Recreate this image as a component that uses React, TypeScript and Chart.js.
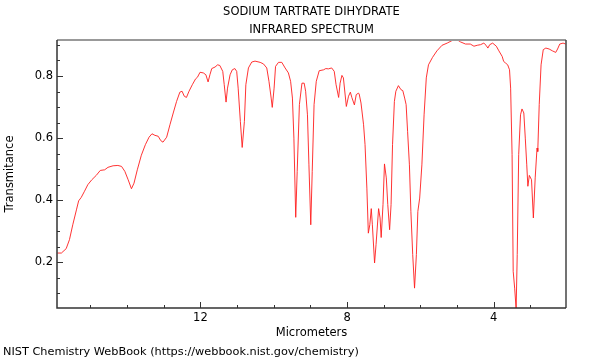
import React, { useEffect, useRef } from "react";
import { Chart, registerables } from "chart.js";

Chart.register(...registerables);

// Wavelength in micrometers (left to right on a reversed axis)
const wavelengths: number[] = [
  15.9, 15.79, 15.66, 15.57, 15.48, 15.38, 15.32, 15.25, 15.16, 15.07, 14.96, 14.84, 14.73, 14.61, 14.52,
  14.38, 14.25, 14.15, 14.06, 13.97, 13.88, 13.81, 13.72, 13.61, 13.5, 13.4, 13.32, 13.24, 13.15, 13.08,
  13.02, 12.92, 12.83, 12.74, 12.65, 12.56, 12.5, 12.44, 12.38, 12.31, 12.22, 12.13, 12.08, 12.01, 11.92,
  11.85, 11.79, 11.74, 11.69, 11.6, 11.53, 11.47, 11.39, 11.35, 11.3, 11.26, 11.19, 11.13, 11.06, 11.01,
  10.97, 10.91, 10.86, 10.8, 10.76, 10.69, 10.6, 10.51, 10.37, 10.28, 10.19, 10.13, 10.07, 10.04, 9.99,
  9.95, 9.87, 9.78, 9.69, 9.6, 9.54, 9.49, 9.45, 9.4, 9.36, 9.3, 9.23, 9.17, 9.13, 9.08, 9.04, 8.99, 8.95,
  8.9, 8.84, 8.76, 8.64, 8.58, 8.51, 8.42, 8.35, 8.3, 8.23, 8.19, 8.14, 8.1, 8.02, 7.96, 7.91, 7.87, 7.8,
  7.75, 7.69, 7.67, 7.62, 7.55, 7.51, 7.46, 7.42, 7.38, 7.34, 7.31, 7.25, 7.21, 7.14, 7.1, 7.07, 7.02,
  6.98, 6.93, 6.89, 6.84, 6.8, 6.76, 6.71, 6.67, 6.6, 6.53, 6.48, 6.43, 6.39, 6.35, 6.3, 6.26, 6.21, 6.16,
  6.11, 6.07, 6.02, 5.96, 5.9, 5.84, 5.78, 5.67, 5.55, 5.41, 5.27, 5.14, 5.0, 4.91, 4.77, 4.64, 4.54,
  4.45, 4.36, 4.27, 4.21, 4.16, 4.11, 4.03, 3.93, 3.86, 3.77, 3.73, 3.68, 3.62, 3.57, 3.54, 3.5, 3.47,
  3.43, 3.39, 3.36, 3.32, 3.27, 3.23, 3.18, 3.14, 3.1, 3.07, 3.03, 2.97, 2.92, 2.87, 2.82, 2.8, 2.76,
  2.71, 2.65, 2.58, 2.49, 2.4, 2.31, 2.26, 2.2, 2.11, 2.04,
];

const transmittance: number[] = [
  0.23, 0.23, 0.244, 0.273, 0.321, 0.369, 0.398, 0.409, 0.429, 0.45, 0.466, 0.48, 0.496, 0.498, 0.506,
  0.511, 0.512, 0.509, 0.493, 0.466, 0.437, 0.455, 0.498, 0.545, 0.579, 0.603, 0.614, 0.609, 0.606, 0.592,
  0.587, 0.603, 0.643, 0.681, 0.718, 0.748, 0.751, 0.735, 0.731, 0.751, 0.772, 0.791, 0.796, 0.812, 0.81,
  0.804, 0.781, 0.804, 0.824, 0.829, 0.836, 0.834, 0.815, 0.772, 0.716, 0.761, 0.804, 0.82, 0.824, 0.815,
  0.761, 0.654, 0.57, 0.654, 0.772, 0.826, 0.845, 0.848, 0.844, 0.839, 0.826, 0.783, 0.729, 0.699, 0.761,
  0.831, 0.844, 0.844, 0.826, 0.81, 0.783, 0.729, 0.6, 0.345, 0.493, 0.708, 0.777, 0.777, 0.751, 0.675, 0.514, 0.321, 0.493,
  0.708, 0.783, 0.817, 0.82, 0.824, 0.823, 0.826, 0.815, 0.772, 0.731, 0.777, 0.802, 0.794, 0.702, 0.735, 0.748, 0.731, 0.707,
  0.74, 0.745, 0.742, 0.713, 0.643, 0.579, 0.439, 0.294, 0.321, 0.373, 0.321, 0.198, 0.257, 0.373, 0.343, 0.28, 0.386,
  0.517, 0.472, 0.386, 0.305, 0.386, 0.579, 0.718, 0.751, 0.769, 0.756, 0.753, 0.729, 0.708, 0.622, 0.514, 0.364, 0.225, 0.117,
  0.225, 0.364, 0.407, 0.514, 0.675, 0.794, 0.836, 0.86, 0.881, 0.899, 0.906, 0.914, 0.917, 0.91, 0.903, 0.903, 0.896,
  0.899, 0.901, 0.906, 0.899, 0.89, 0.901, 0.906, 0.896, 0.881, 0.863, 0.847, 0.842, 0.836, 0.82, 0.761, 0.547, 0.171,
  0.117, 0.05, 0.225, 0.547, 0.675, 0.694, 0.681, 0.6, 0.514, 0.445, 0.48, 0.466, 0.343, 0.472, 0.568, 0.557, 0.708,
  0.836, 0.885, 0.89, 0.887, 0.881, 0.876, 0.887, 0.903, 0.906, 0.903,
];

const xTickValues: number[] = [12, 8, 4];
const yTickValues: number[] = [0.2, 0.4, 0.6, 0.8];
const titleLines: string[] = ["SODIUM TARTRATE DIHYDRATE", "INFRARED SPECTRUM"];
const xAxisTitle = "Micrometers";
const yAxisTitle = "Transmitance";
const footerText = "NIST Chemistry WebBook (https://webbook.nist.gov/chemistry)";

const FONT_FAMILY = "'DejaVu Sans', sans-serif";
const FONT_SIZE = 11.5;

const decorPlugin = {
  id: "decor",
  afterDraw(chart: any) {
    const { ctx, chartArea: a, scales } = chart;
    const xs = scales.x;
    const ys = scales.y;
    ctx.save();
    // ticks (inward)
    ctx.strokeStyle = "#333";
    ctx.lineWidth = 1;
    for (let v = 3; v <= 15; v++) {
      const px = Math.round(xs.getPixelForValue(v)) + 0.5;
      const len = v % 4 === 0 ? 6 : 3;
      ctx.beginPath();
      ctx.moveTo(px, a.bottom);
      ctx.lineTo(px, a.bottom - len);
      ctx.stroke();
    }
    for (let k = 2; k <= 18; k++) {
      const v = k * 0.05;
      if (v < ys.min || v > ys.max) continue;
      const py = Math.round(ys.getPixelForValue(v)) + 0.5;
      const len = k % 4 === 0 ? 6 : 3;
      ctx.beginPath();
      ctx.moveTo(a.left, py);
      ctx.lineTo(a.left + len, py);
      ctx.stroke();
    }
    // frame
    ctx.strokeStyle = "#999";
    ctx.lineWidth = 2;
    ctx.beginPath();
    ctx.moveTo(a.left, a.top);
    ctx.lineTo(a.right, a.top);
    ctx.stroke();
    ctx.strokeStyle = "#444";
    ctx.lineWidth = 1.5;
    ctx.beginPath();
    ctx.moveTo(a.right, a.top);
    ctx.lineTo(a.right, a.bottom);
    ctx.stroke();
    ctx.strokeStyle = "#333";
    ctx.lineWidth = 1.5;
    ctx.beginPath();
    ctx.moveTo(a.left, a.top);
    ctx.lineTo(a.left, a.bottom);
    ctx.lineTo(a.right, a.bottom);
    ctx.stroke();
    // titles
    ctx.fillStyle = "#000";
    ctx.font = `${FONT_SIZE}px ${FONT_FAMILY}`;
    ctx.textAlign = "center";
    ctx.textBaseline = "middle";
    const cx = (a.left + a.right) / 2;
    ctx.fillText(titleLines[0], cx, 12);
    ctx.fillText(titleLines[1], cx, 30);
    ctx.textAlign = "left";
    ctx.font = `11.3px ${FONT_FAMILY}`;
    ctx.fillText(footerText, 3, 352);
    ctx.restore();
  },
};

export default function App() {
  const canvasRef = useRef<HTMLCanvasElement | null>(null);

  useEffect(() => {
    if (!canvasRef.current) return;
    const font = { family: FONT_FAMILY, size: FONT_SIZE };
    const points = wavelengths.map((w, i) => ({ x: w, y: transmittance[i] }));
    const chart = new Chart(canvasRef.current, {
      type: "line",
      data: {
        datasets: [
          {
            data: points,
            borderColor: "rgba(255, 30, 30, 0.9)",
            borderWidth: 1,
            pointRadius: 0,
            tension: 0,
            fill: false,
          },
        ],
      },
      plugins: [decorPlugin],
      options: {
        animation: false,
        responsive: false,
        devicePixelRatio: 1,
        layout: { padding: { top: 40, left: 0, right: 34, bottom: 0 } },
        plugins: { legend: { display: false }, tooltip: { enabled: false }, title: { display: false } },
        scales: {
          x: {
            type: "linear",
            reverse: true,
            min: 2.03,
            max: 15.91,
            afterBuildTicks: (s: any) => {
              s.ticks = xTickValues.map((v) => ({ value: v }));
            },
            afterFit: (s: any) => {
              s.height = 52;
            },
            grid: { display: true, drawOnChartArea: false, drawTicks: false, color: "rgba(0,0,0,0)" },
            border: { display: false },
            ticks: { font, color: "#000", padding: 3, maxRotation: 0, autoSkip: false },
            title: { display: true, text: xAxisTitle, font, color: "#000", padding: { top: 0, bottom: 20 } },
          },
          y: {
            type: "linear",
            min: 0.053,
            max: 0.916,
            afterBuildTicks: (s: any) => {
              s.ticks = yTickValues.map((v) => ({ value: v }));
            },
            afterFit: (s: any) => {
              s.width = 57;
            },
            grid: { display: true, drawOnChartArea: false, drawTicks: false, color: "rgba(0,0,0,0)" },
            border: { display: false },
            ticks: { font, color: "#000", padding: 4, autoSkip: false, callback: (v: any) => Number(v).toFixed(1) },
            title: { display: true, text: yAxisTitle, font, color: "#000", padding: { top: 3, bottom: 0 } },
          },
        },
      },
    } as any);
    return () => chart.destroy();
  }, []);

  return (
    <div style={{ position: "fixed", left: 0, top: 0, width: 600, height: 360, background: "#fff" }}>
      <canvas ref={canvasRef} width={600} height={360} style={{ display: "block" }} />
    </div>
  );
}
